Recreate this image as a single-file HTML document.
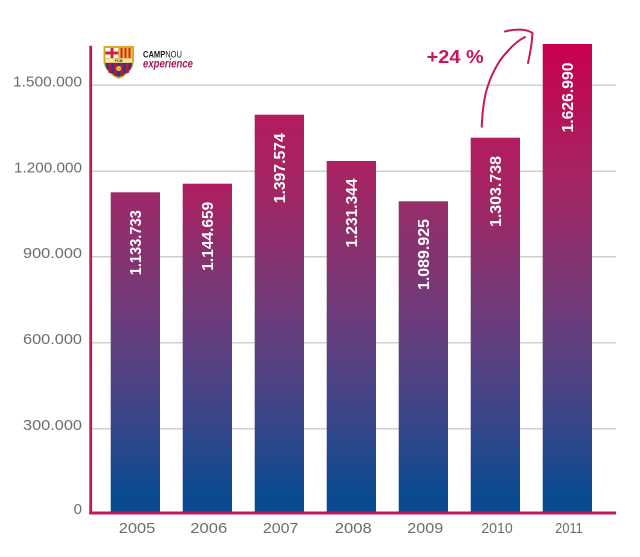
<!DOCTYPE html>
<html>
<head>
<meta charset="utf-8">
<style>
html,body{margin:0;padding:0;background:#fff;}
svg{display:block;}
</style>
</head>
<body>
<svg width="640" height="557" viewBox="0 0 640 557" xmlns="http://www.w3.org/2000/svg">
<defs>
  <linearGradient id="g2005" gradientUnits="userSpaceOnUse" x1="0" y1="44" x2="0" y2="514">
    <stop offset="0.315" stop-color="#9e2968"/>
    <stop offset="0.5" stop-color="#7c3674"/>
    <stop offset="0.65" stop-color="#5e4080"/>
    <stop offset="0.82" stop-color="#34468a"/>
    <stop offset="0.95" stop-color="#0d4a8f"/>
    <stop offset="1" stop-color="#0a4a90"/>
  </linearGradient>
  <linearGradient id="g2006" gradientUnits="userSpaceOnUse" x1="0" y1="44" x2="0" y2="514">
    <stop offset="0.298" stop-color="#b01e5f"/>
    <stop offset="0.5" stop-color="#7c3674"/>
    <stop offset="0.65" stop-color="#5e4080"/>
    <stop offset="0.82" stop-color="#34468a"/>
    <stop offset="0.95" stop-color="#0d4a8f"/>
    <stop offset="1" stop-color="#0a4a90"/>
  </linearGradient>
  <linearGradient id="g2007" gradientUnits="userSpaceOnUse" x1="0" y1="44" x2="0" y2="514">
    <stop offset="0.15" stop-color="#b41c5e"/>
    <stop offset="0.32" stop-color="#a12665"/>
    <stop offset="0.5" stop-color="#7c3674"/>
    <stop offset="0.65" stop-color="#5e4080"/>
    <stop offset="0.82" stop-color="#34468a"/>
    <stop offset="0.95" stop-color="#0d4a8f"/>
    <stop offset="1" stop-color="#0a4a90"/>
  </linearGradient>
  <linearGradient id="g2008" gradientUnits="userSpaceOnUse" x1="0" y1="44" x2="0" y2="514">
    <stop offset="0.25" stop-color="#ac2161"/>
    <stop offset="0.5" stop-color="#7c3674"/>
    <stop offset="0.65" stop-color="#5e4080"/>
    <stop offset="0.82" stop-color="#34468a"/>
    <stop offset="0.95" stop-color="#0d4a8f"/>
    <stop offset="1" stop-color="#0a4a90"/>
  </linearGradient>
  <linearGradient id="g2009" gradientUnits="userSpaceOnUse" x1="0" y1="44" x2="0" y2="514">
    <stop offset="0.334" stop-color="#962e6a"/>
    <stop offset="0.5" stop-color="#7c3674"/>
    <stop offset="0.65" stop-color="#5e4080"/>
    <stop offset="0.82" stop-color="#34468a"/>
    <stop offset="0.95" stop-color="#0d4a8f"/>
    <stop offset="1" stop-color="#0a4a90"/>
  </linearGradient>
  <linearGradient id="g2010" gradientUnits="userSpaceOnUse" x1="0" y1="44" x2="0" y2="514">
    <stop offset="0.2" stop-color="#b41d5e"/>
    <stop offset="0.34" stop-color="#a12665"/>
    <stop offset="0.5" stop-color="#7c3674"/>
    <stop offset="0.65" stop-color="#5e4080"/>
    <stop offset="0.82" stop-color="#34468a"/>
    <stop offset="0.95" stop-color="#0d4a8f"/>
    <stop offset="1" stop-color="#0a4a90"/>
  </linearGradient>
  <linearGradient id="g2011" gradientUnits="userSpaceOnUse" x1="0" y1="44" x2="0" y2="514">
    <stop offset="0" stop-color="#c8004e"/>
    <stop offset="0.3" stop-color="#a42664"/>
    <stop offset="0.5" stop-color="#7c3674"/>
    <stop offset="0.65" stop-color="#5e4080"/>
    <stop offset="0.82" stop-color="#34468a"/>
    <stop offset="0.95" stop-color="#0d4a8f"/>
    <stop offset="1" stop-color="#0a4a90"/>
  </linearGradient>
</defs>

<!-- gridlines -->
<g stroke="#cfcfcf" stroke-width="1.5">
  <line x1="92" y1="85.3" x2="616" y2="85.3"/>
  <line x1="92" y1="171.3" x2="616" y2="171.3"/>
  <line x1="92" y1="256.7" x2="616" y2="256.7"/>
  <line x1="92" y1="342.7" x2="616" y2="342.7"/>
  <line x1="92" y1="428.7" x2="616" y2="428.7"/>
</g>

<!-- y labels -->
<g font-family="Liberation Sans, sans-serif" font-size="15" fill="#6d6d6d" text-anchor="end">
  <text x="82" y="86.5" textLength="69" lengthAdjust="spacingAndGlyphs">1.500.000</text>
  <text x="82" y="172.5" textLength="68" lengthAdjust="spacingAndGlyphs">1.200.000</text>
  <text x="82" y="257.8" textLength="59" lengthAdjust="spacingAndGlyphs">900.000</text>
  <text x="82" y="343.8" textLength="59" lengthAdjust="spacingAndGlyphs">600.000</text>
  <text x="82" y="429.8" textLength="59" lengthAdjust="spacingAndGlyphs">300.000</text>
  <text x="82" y="514">0</text>
</g>

<!-- bars -->
<rect x="110.7" y="192.3" width="49.3" height="321" fill="url(#g2005)"/>
<rect x="182.7" y="183.7" width="49.3" height="329.6" fill="url(#g2006)"/>
<rect x="254.7" y="114.7" width="49.3" height="398.6" fill="url(#g2007)"/>
<rect x="326.7" y="161" width="49.3" height="352.3" fill="url(#g2008)"/>
<rect x="398.7" y="201.3" width="49.3" height="312" fill="url(#g2009)"/>
<rect x="470.7" y="137.7" width="49.3" height="375.6" fill="url(#g2010)"/>
<rect x="542.7" y="44" width="49.3" height="469.3" fill="url(#g2011)"/>

<!-- bar value labels -->
<g font-family="Liberation Sans, sans-serif" font-size="16" font-weight="bold" fill="#ffffff" text-anchor="end">
  <text transform="translate(141.2,210.3) rotate(-90)" textLength="65" lengthAdjust="spacingAndGlyphs">1.133.733</text>
  <text transform="translate(213.2,201.7) rotate(-90)" textLength="69" lengthAdjust="spacingAndGlyphs">1.144.659</text>
  <text transform="translate(285.2,133.3) rotate(-90)" textLength="70" lengthAdjust="spacingAndGlyphs">1.397.574</text>
  <text transform="translate(357.2,178.5) rotate(-90)" textLength="69" lengthAdjust="spacingAndGlyphs">1.231.344</text>
  <text transform="translate(429.2,219) rotate(-90)" textLength="71" lengthAdjust="spacingAndGlyphs">1.089.925</text>
  <text transform="translate(501.2,156) rotate(-90)" textLength="71" lengthAdjust="spacingAndGlyphs">1.303.738</text>
  <text transform="translate(573.2,62.5) rotate(-90)" textLength="70" lengthAdjust="spacingAndGlyphs">1.626.990</text>
</g>

<!-- axes -->
<line x1="90.7" y1="45.7" x2="90.7" y2="514.5" stroke="#c2185b" stroke-width="2.8"/>
<line x1="89.3" y1="513" x2="616" y2="513" stroke="#c2185b" stroke-width="3"/>

<!-- x labels -->
<g font-family="Liberation Sans, sans-serif" font-size="15" fill="#6d6d6d" text-anchor="middle">
  <text x="137" y="533" textLength="36.5" lengthAdjust="spacingAndGlyphs">2005</text>
  <text x="208.8" y="533" textLength="37" lengthAdjust="spacingAndGlyphs">2006</text>
  <text x="280.7" y="533" textLength="35.5" lengthAdjust="spacingAndGlyphs">2007</text>
  <text x="353.3" y="533" textLength="37" lengthAdjust="spacingAndGlyphs">2008</text>
  <text x="425.3" y="533" textLength="36" lengthAdjust="spacingAndGlyphs">2009</text>
  <text x="497" y="533" textLength="31.5" lengthAdjust="spacingAndGlyphs">2010</text>
  <text x="569" y="533" textLength="27.5" lengthAdjust="spacingAndGlyphs">2011</text>
</g>

<!-- +24 % annotation -->
<text x="426.7" y="63" font-family="Liberation Sans, sans-serif" font-size="18" font-weight="bold" fill="#c8155a" textLength="57" lengthAdjust="spacingAndGlyphs">+24 %</text>
<g fill="none" stroke="#c41a5c" stroke-width="2" stroke-linecap="round" stroke-linejoin="round">
  <path d="M481.7,126.7 C482.5,110 484,100 486,92 C488.5,83 491,77 494,71 C498,63 502,57 507,52 C512,46 517,41 525,37"/>
  <path d="M505,31.5 C514,29 526,28.5 532.5,33 C532,44 530,54 528,63"/>
</g>

<!-- logo crest -->
<g>
  <path d="M103.5,46 L134,46 L134,60 C134,70 126,76 118.7,79 C111.5,76 103.5,70 103.5,60 Z" fill="#d9a92b"/>
  <path d="M105.5,48 L118.2,48 L118.2,58 L105.5,58 Z" fill="#ffffff"/>
  <rect x="110.5" y="48" width="3" height="10" fill="#d5202e"/>
  <rect x="105.5" y="51.5" width="12.7" height="3" fill="#d5202e"/>
  <rect x="119.2" y="48" width="12.8" height="10" fill="#f2c12e"/>
  <rect x="120.5" y="48" width="2" height="10" fill="#d5202e"/>
  <rect x="124.5" y="48" width="2" height="10" fill="#d5202e"/>
  <rect x="128.5" y="48" width="2" height="10" fill="#d5202e"/>
  <rect x="105.5" y="58.5" width="26.5" height="4" fill="#f4e7b8"/>
  <text x="118.7" y="62.2" font-family="Liberation Sans, sans-serif" font-size="4" font-weight="bold" fill="#333" text-anchor="middle">FCB</text>
  <path d="M105.5,63 L132,63 L132,64 C132,70 125,74.5 118.7,77 C112.5,74.5 105.5,70 105.5,64 Z" fill="#1d3f8f"/>
  <rect x="108.5" y="63" width="2.8" height="10" fill="#b8173f"/>
  <rect x="114" y="63" width="2.8" height="13" fill="#b8173f"/>
  <rect x="120.5" y="63" width="2.8" height="13" fill="#b8173f"/>
  <rect x="126" y="63" width="2.8" height="10" fill="#b8173f"/>
  <circle cx="118.7" cy="68.5" r="2.6" fill="#e0b53a"/>
</g>
<text x="143" y="57.5" font-family="Liberation Sans, sans-serif" font-size="9" fill="#1a1a1a" textLength="39" lengthAdjust="spacingAndGlyphs"><tspan font-weight="bold">CAMP</tspan>NOU</text>
<text x="143" y="67.5" font-family="Liberation Sans, sans-serif" font-size="12" font-style="italic" font-weight="bold" fill="#a8185a" textLength="50" lengthAdjust="spacingAndGlyphs">experience</text>
</svg>
</body>
</html>
